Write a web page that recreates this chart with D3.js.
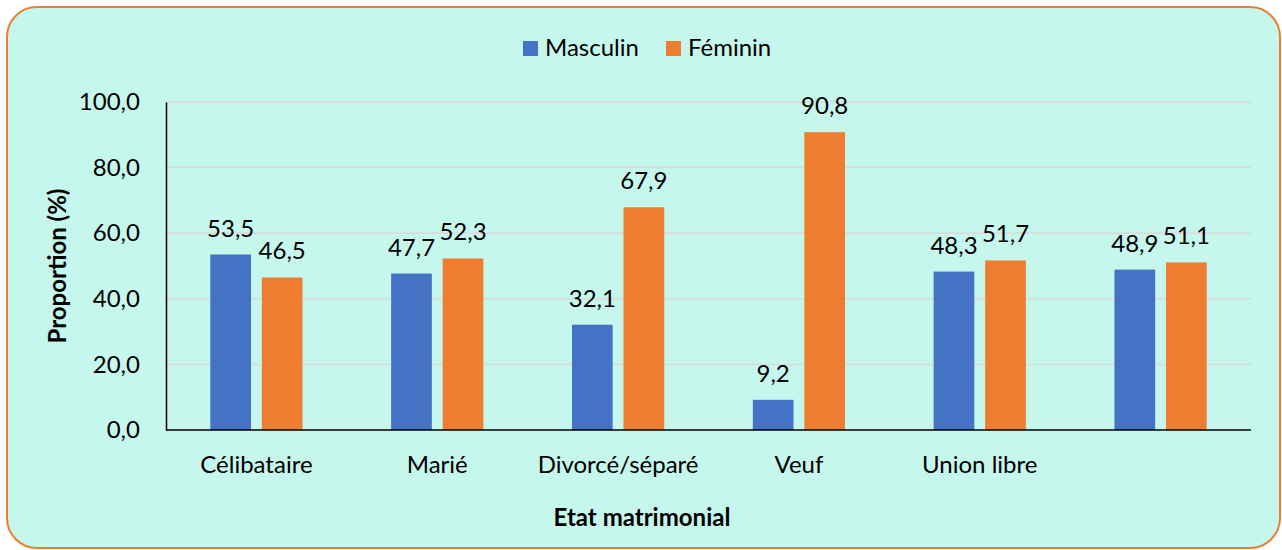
<!DOCTYPE html>
<html>
<head>
<meta charset="utf-8">
<title>Etat matrimonial</title>
<style>
  body { margin: 0; background: #fff; }
  text { font-family: Lato, "Open Sans", sans-serif; fill: #000; }
</style>
</head>
<body>
<script src="https://d3js.org/d3.v7.min.js"></script>
<script>
// data
var categories = ["Célibataire", "Marié", "Divorcé/séparé", "Veuf", "Union libre", ""];
var series = ["Masculin", "Féminin"];
var masculin = [53.5, 47.7, 32.1, 9.2, 48.3, 48.9];
var feminin = [46.5, 52.3, 67.9, 90.8, 51.7, 51.1];
var yTicks = [0, 20, 40, 60, 80, 100];
var colors = ["#4472C4", "#ED7D31"];

var W = 1282, H = 550;
var pLeft = 166, pRight = 1251, pTop = 102, pBottom = 430;
var fs = 24;

var svg = d3.select("body").append("svg")
    .attr("width", W).attr("height", H);

// card
svg.append("rect")
    .attr("x", 7).attr("y", 7)
    .attr("width", 1273).attr("height", 541)
    .attr("rx", 30).attr("ry", 30)
    .attr("fill", "#C6F7EC")
    .attr("stroke", "#ED7D31").attr("stroke-width", 2);

var x0 = d3.scaleBand().domain(d3.range(categories.length))
    .range([pLeft, pRight]).paddingInner(0.49).paddingOuter(0.245);
var x1 = d3.scaleBand().domain(series).range([0, x0.bandwidth()]).paddingInner(0.21);
var y = d3.scaleLinear().domain([0, 100]).range([pBottom, pTop]);

var fmt = function (v) { return d3.format(".1f")(v).replace(".", ","); };

// grid
svg.append("g").selectAll("line")
    .data(yTicks.slice(1))
    .enter().append("line")
    .attr("x1", pLeft).attr("x2", pRight)
    .attr("y1", function (d) { return y(d); })
    .attr("y2", function (d) { return y(d); })
    .attr("stroke", "#D9D9D9").attr("stroke-width", 1.5);

// y axis
var yAxis = svg.append("g")
    .attr("transform", "translate(" + pLeft + ",0)")
    .call(d3.axisLeft(y).tickValues(yTicks).tickSize(0).tickPadding(26).tickFormat(fmt));
yAxis.select(".domain").attr("stroke", "#000").attr("stroke-width", 1.5);
yAxis.selectAll("text").attr("font-size", fs).attr("font-family", null);

// bars
var rows = categories.map(function (c, i) {
    return { i: i, vals: [masculin[i], feminin[i]] };
});
var groups = svg.append("g").selectAll("g")
    .data(rows).enter().append("g")
    .attr("transform", function (d) { return "translate(" + x0(d.i) + ",0)"; });

groups.selectAll("rect")
    .data(function (d) { return d.vals.map(function (v, k) { return { s: series[k], k: k, v: v }; }); })
    .enter().append("rect")
    .attr("x", function (d) { return x1(d.s); })
    .attr("y", function (d) { return y(d.v); })
    .attr("width", x1.bandwidth())
    .attr("height", function (d) { return y(0) - y(d.v); })
    .attr("fill", function (d) { return colors[d.k]; });

groups.selectAll("text.val")
    .data(function (d) { return d.vals.map(function (v, k) { return { s: series[k], k: k, v: v }; }); })
    .enter().append("text")
    .attr("class", "val")
    .attr("x", function (d) { return x1(d.s) + x1.bandwidth() / 2; })
    .attr("y", function (d) { return y(d.v) - 18; })
    .attr("text-anchor", "middle")
    .attr("font-size", fs)
    .text(function (d) { return fmt(d.v); });

// x axis
var xAxis = svg.append("g")
    .attr("transform", "translate(0," + pBottom + ")")
    .call(d3.axisBottom(x0).tickSize(0).tickPadding(26).tickFormat(function (i) { return categories[i]; }));
xAxis.select(".domain").attr("stroke", "#000").attr("stroke-width", 1.5)
    .attr("d", "M" + pLeft + ",0H" + pRight);
xAxis.selectAll("text").attr("font-size", fs).attr("font-family", null);

// axis titles
svg.append("text")
    .attr("transform", "translate(66,266) rotate(-90)")
    .attr("text-anchor", "middle")
    .attr("font-size", fs).attr("font-weight", "bold")
    .text("Proportion (%)");

svg.append("text")
    .attr("x", 642).attr("y", 526)
    .attr("text-anchor", "middle")
    .attr("font-size", fs).attr("font-weight", "bold")
    .text("Etat matrimonial");

// legend
var legend = svg.append("g").selectAll("g")
    .data(series).enter().append("g")
    .attr("transform", function (d, i) { return "translate(" + [523, 666][i] + ",41)"; });
legend.append("rect")
    .attr("width", 15).attr("height", 15)
    .attr("fill", function (d, i) { return colors[i]; });
legend.append("text")
    .attr("x", 22).attr("y", 15)
    .attr("font-size", fs)
    .text(function (d) { return d; });
</script>
</body>
</html>
